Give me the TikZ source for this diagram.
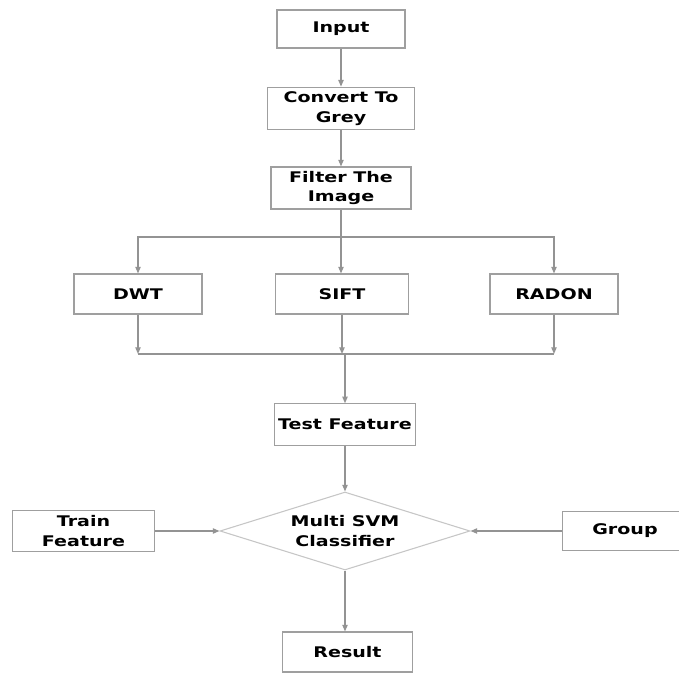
\documentclass[tikz,border=0pt]{standalone}
\usepackage{fontspec}
\setmainfont{DejaVu Sans}[FakeStretch=1.3]
\usetikzlibrary{arrows.meta,shapes.geometric}

\begin{document}
\begin{tikzpicture}[x=0.75pt,y=-0.75pt,
		box/.style={draw=gray!75,line width=0.8pt,fill=white,align=center,inner sep=2pt,
			font=\fontsize{11}{14.5}\selectfont\bfseries},
		decide/.style={diamond,draw=gray!45,line width=0.8pt,fill=white,align=center,inner sep=0pt,
			shape aspect=3.2,font=\fontsize{11}{14.5}\selectfont\bfseries},
		link/.style={draw=gray!85,line width=0.9pt},
		flow/.style={link,-{Triangle[length=5pt,width=4pt]}}]
			\clip (0,0) rectangle (679,673);
			\node[box,minimum width=96pt,minimum height=28.5pt] (in) at (341,29) {Input};
			\node[box,minimum width=110pt,minimum height=32pt] (cvt) at (341,108.5) {Convert To\\Grey};
			\node[box,minimum width=105pt,minimum height=31.5pt] (filt) at (341,188) {Filter The\\Image};
			\node[box,minimum width=96pt,minimum height=30pt] (dwt) at (138,294) {DWT};
			\node[box,minimum width=100pt,minimum height=30pt] (sift) at (342,294) {SIFT};
			\node[box,minimum width=96pt,minimum height=30pt] (rad) at (554,294) {RADON};
			\node[box,minimum width=106pt,minimum height=31pt] (tf) at (345,424.5) {Test Feature};
			\node[decide,minimum width=187.5pt,minimum height=58.5pt] (svm) at (345,531) {Multi SVM\\Classifier};
			\node[box,minimum width=107pt,minimum height=31pt] (trn) at (83.5,531) {Train\\Feature};
			\node[box,minimum width=94pt,minimum height=29.5pt] (grp) at (625,531) {Group};
			\node[box,minimum width=97pt,minimum height=30pt] (res) at (347.5,652) {Result};
			\coordinate (br) at (341,237);
			\coordinate (mg) at (345,354);
			\draw[flow] (in) -- (cvt);
			\draw[flow] (cvt) -- (filt);
			\draw[link] (filt.south) -- (br);
			\draw[flow] (br) -| (dwt.north);
			\draw[flow] (br) -| (rad.north);
			\draw[flow] (br) -- (br |- sift.north);
			\draw[link] (dwt.south |- mg) -- (rad.south |- mg);
			\draw[flow] (dwt.south) -- (dwt.south |- mg);
			\draw[flow] (sift.south) -- (sift.south |- mg);
			\draw[flow] (rad.south) -- (rad.south |- mg);
			\draw[flow] (mg) -- (tf.north);
			\draw[flow] (tf.south) -- (svm.north);
			\draw[flow] (trn.east) -- (svm.west);
			\draw[flow] (grp.west) -- (svm.east);
			\draw[flow] (svm.south) -- (svm.south |- res.north);
		\end{tikzpicture}
\end{document}
